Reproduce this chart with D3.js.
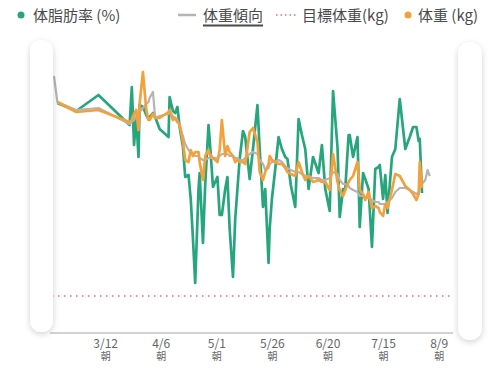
<!DOCTYPE html>
<meta charset="utf-8">
<script src="https://d3js.org/d3.v7.min.js"></script>
<style>
    body { margin: 0; background: #fff; }
    text { font-family: "Noto Sans CJK JP", "Noto Sans", sans-serif; }
</style>
<svg id="vis"></svg>

<script>
    var width = 500, height = 377;

    // measurement times (morning / evening)
    let dates = ['02-17T00', '02-18T12', '02-27T00', '03-09T00', '03-23T00', '03-24T00', '03-25T00', '03-26T00',
        '03-27T00', '03-27T12', '03-29T00', '03-30T12', '03-31T12', '04-01T00', '04-02T12', '04-03T12', '04-05T12',
        '04-09T12', '04-10T00', '04-11T12', '04-12T12', '04-13T12', '04-14T12', '04-16T00', '04-17T00', '04-18T12',
        '04-19T12', '04-20T12', '04-21T12', '04-23T00', '04-23T12', '04-25T00', '04-26T00', '04-27T12', '04-28T00',
        '04-29T12', '05-01T12', '05-02T12', '05-03T12', '05-05T00', '05-06T00', '05-07T00', '05-08T12', '05-09T12',
        '05-10T12', '05-11T12', '05-13T00', '05-14T00', '05-16T00', '05-17T12', '05-19T12', '05-20T12', '05-22T00',
        '05-23T00', '05-24T12', '05-25T00', '05-26T00', '05-27T12', '05-29T00', '05-30T12', '06-01T00', '06-02T00',
        '06-03T12', '06-05T12', '06-07T00', '06-08T12', '06-10T00', '06-11T12', '06-13T12', '06-16T00', '06-17T12',
        '06-19T00', '06-21T00', '06-22T12', '06-24T12', '06-25T12', '06-27T00', '06-28T00', '06-29T12', '06-30T00',
        '07-01T12', '07-03T12', '07-04T12', '07-06T00', '07-07T00', '07-08T12', '07-10T00', '07-11T12', '07-13T00',
        '07-13T12', '07-15T00', '07-16T00', '07-17T00', '07-19T00', '07-20T12', '07-22T12', '07-25T00', '07-27T00',
        '07-28T12', '07-30T00', '07-31T00', '07-31T12', '08-01T12', '08-03T00', '08-04T00', '08-05T00']

    // body fat (%)
    let fat = [null, 29.0, 28.6, 29.4, 27.9, 29.8, 26.9, 28.3, 26.3, 28.9, 28.8, 28.4, 28.2, 28.3, 28.5, 28.3, 27.7,
        27.3, 29.3, 28.6, 28.5, 28.8, 27.8, 26.8, 25.3, 25.4, 24.2, 22.2, 20.0, 24.7, 25.5, 22.0, 24.9, 27.9, 27.2,
        24.8, 25.3, 23.4, 23.4, 24.7, 25.3, 22.7, 20.3, 23.2, 24.7, 26.2, 27.6, 27.3, 25.2, 26.7, 28.9, 26.7, 23.8,
        24.7, 21.0, 22.7, 24.2, 25.7, 27.3, 26.7, 26.3, 26.2, 24.9, 23.8, 28.2, 27.4, 26.7, 24.7, 26.3, 25.5, 26.9,
        24.7, 23.6, 29.6, 26.8, 23.3, 24.7, 24.7, 27.4, 27.4, 26.3, 27.3, 22.8, 25.5, 25.2, 24.7, 21.8, 25.7, 25.8,
        25.9, 24.2, 25.4, 23.5, 26.3, 26.7, 29.2, 26.7, 27.3, 27.8, 27.8, 27.1, 27.2, 24.5, null, null, null]

    // weight (kg)
    let weight = [null, 69.7, 69.2, 69.3, 68.7, 68.8, 69.1, 69.3, 68.3, 69.6, 71.2, 69.3, 68.8, 68.8, 69.1, 68.9, 68.9,
        69.2, 69.3, 68.8, 68.9, 68.7, 68.6, 67.7, 66.8, 66.7, 67.3, 67.0, 67.2, 67.2, 66.7, 65.8, 67.0, 67.3, 67.1,
        66.9, 66.7, 67.3, 68.8, 67.0, 67.5, 67.2, 67.0, 66.7, 66.8, 66.7, 66.7, 66.6, 68.2, 68.4, 67.7, 66.2, 65.8,
        66.2, 66.6, 67.0, 66.8, 66.7, 66.6, 66.6, 66.4, 66.2, 66.1, 66.0, 66.7, 66.2, 65.8, 66.0, 65.7, 65.8, 65.7,
        65.7, 65.3, 67.1, 65.7, 65.3, 65.0, 65.3, 65.7, 65.8, 66.0, 66.7, 65.3, 65.1, 64.8, 65.2, 64.4, 64.5, 64.4,
        64.2, 64.0, 64.6, 64.4, 65.3, 66.1, 66.0, 65.5, 65.3, 65.1, 64.8, 65.1, 66.7, 65.4, null, null, null]

    // weight trend (kg)
    let trend = [71.0, 69.7, 69.3, 69.4, 68.6, 68.7, 68.8, 69.0, 69.0, 69.2, 69.4, 69.6, 69.7, 69.9, 70.2, 68.9, 69.0,
        69.1, 69.2, 69.0, 68.9, 68.8, 68.5, 68.0, 67.6, 67.3, 67.2, 67.1, 67.0, 67.0, 66.9, 66.8, 66.8, 66.9, 66.9,
        66.9, 66.9, 67.0, 67.1, 67.1, 67.1, 67.0, 67.0, 66.9, 66.9, 66.8, 66.8, 66.9, 67.1, 67.2, 67.1, 66.8, 66.6,
        66.3, 66.4, 66.6, 66.7, 66.7, 66.8, 66.7, 66.5, 66.4, 66.3, 66.2, 66.2, 66.1, 66.0, 66.0, 65.9, 65.9, 65.8,
        65.8, 65.9, 66.2, 66.1, 65.8, 65.6, 65.6, 65.5, 65.4, 65.3, 65.2, 65.0, 65.0, 64.9, 64.9, 64.8, 64.7, 64.7,
        64.6, 64.6, 64.6, 64.7, 64.9, 65.2, 65.4, 65.4, 65.3, 65.2, 65.1, 65.2, 65.4, 65.6, 65.8, 66.3, 66.0]

    let targetWeight = 60
    let tickDates = ['03-12', '04-06', '05-01', '05-26', '06-20', '07-15', '08-09']

    let green = '#27a67e', orange = '#f2a13c', grey = '#b4b4b4', red = '#d9727c'

    let parse = d3.timeParse('%Y-%m-%dT%H')
    let times = dates.map(function (d) { return parse('2023-' + d) })

    let svg = d3.select('#vis')
        .attr('width', width)
        .attr('height', height)

    // soft shadow for the side handles
    let filter = svg.append('defs').append('filter')
        .attr('id', 'shadow')
        .attr('x', '-60%').attr('y', '-10%')
        .attr('width', '220%').attr('height', '120%')
    filter.append('feDropShadow')
        .attr('dx', 0).attr('dy', 2)
        .attr('stdDeviation', 3)
        .attr('flood-color', '#000')
        .attr('flood-opacity', 0.18)

    // Scales
    var x = d3.scaleTime()
        .domain([parse('2023-02-17T00'), parse('2023-08-15T00')])
        .range([54, 452])
    var yW = d3.scaleLinear().domain([60, 70]).range([296, 96])
    var yF = d3.scaleLinear().domain([20, 30]).range([283, 83])

    // X axis
    var xAxis = svg.append('g')
        .attr('transform', 'translate(0,333)')
        .call(d3.axisBottom(x)
            .tickValues(tickDates.map(function (d) { return parse('2023-' + d + 'T00') }))
            .tickSize(0)
            .tickFormat(d3.timeFormat('%-m/%-d')))
    xAxis.select('.domain').attr('stroke', '#c4c4c4').attr('stroke-width', 1.5)
        .attr('d', 'M50,0H453')
    xAxis.selectAll('.tick text').each(function () {
        let t = d3.select(this), label = t.text()
        t.text(null).attr('y', 0).attr('dy', null).attr('fill', '#666')
        t.append('tspan').attr('x', 0).attr('y', 14.5).style('font-size', '12px').text(label)
        t.append('tspan').attr('x', 0).attr('y', 26.5).style('font-size', '10px').text('朝')
    })

    // Target weight
    svg.append('line')
        .attr('x1', 52).attr('x2', 452)
        .attr('y1', yW(targetWeight)).attr('y2', yW(targetWeight))
        .attr('stroke', red)
        .attr('stroke-width', 1.5)
        .attr('stroke-dasharray', '1.5,4.5')

    // Lines
    function drawLine(values, scale, color, w) {
        svg.append('path')
            .datum(values.map(function (v, i) { return [times[i], v] }))
            .attr('fill', 'none')
            .attr('stroke', color)
            .attr('stroke-width', w)
            .attr('stroke-linejoin', 'round')
            .attr('d', d3.line()
                .defined(function (d) { return d[1] != null })
                .x(function (d) { return x(d[0]) })
                .y(function (d) { return scale(d[1]) }))
    }
    drawLine(fat, yF, green, 2.7)
    drawLine(trend, yW, grey, 2.2)
    drawLine(weight, yW, orange, 2.7)

    // side handles
    svg.append('rect')
        .attr('x', 30).attr('y', 40).attr('width', 23).attr('height', 292)
        .attr('rx', 11.5).attr('fill', '#fff').attr('filter', 'url(#shadow)')
    svg.append('rect')
        .attr('x', 458).attr('y', 42).attr('width', 24).attr('height', 298)
        .attr('rx', 12).attr('fill', '#fff').attr('filter', 'url(#shadow)')

    // Legend
    let legend = svg.append('g').style('font-size', '15px').attr('fill', '#4a4a4a')
    legend.append('circle').attr('cx', 21).attr('cy', 15).attr('r', 3.5).attr('fill', green)
    legend.append('text').attr('x', 33).attr('y', 20.5).text('体脂肪率 (%)')
    legend.append('line').attr('x1', 178).attr('x2', 196).attr('y1', 15).attr('y2', 15)
        .attr('stroke', grey).attr('stroke-width', 2.5)
    legend.append('text').attr('x', 203).attr('y', 20.5).text('体重傾向')
    legend.append('line').attr('x1', 203).attr('x2', 263).attr('y1', 25.5).attr('y2', 25.5)
        .attr('stroke', '#4a4a4a').attr('stroke-width', 2)
    legend.append('line').attr('x1', 276).attr('x2', 296).attr('y1', 15).attr('y2', 15)
        .attr('stroke', red).attr('stroke-width', 1.5).attr('stroke-dasharray', '1.5,3')
    legend.append('text').attr('x', 302).attr('y', 20.5).text('目標体重(kg)')
    legend.append('circle').attr('cx', 408).attr('cy', 15).attr('r', 3.5).attr('fill', orange)
    legend.append('text').attr('x', 418).attr('y', 20.5).text('体重 (kg)')
</script>
